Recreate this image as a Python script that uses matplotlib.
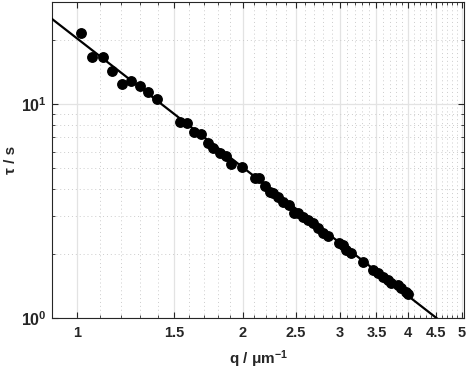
import numpy as np
import matplotlib
matplotlib.use("Agg")
import matplotlib.pyplot as plt
from matplotlib.ticker import FixedLocator, NullFormatter

plt.rcParams['font.family'] = ['Liberation Sans', 'DejaVu Sans']
plt.rcParams['mathtext.fontset'] = 'custom'
plt.rcParams['mathtext.rm'] = 'Liberation Sans:bold'
plt.rcParams['mathtext.bf'] = 'Liberation Sans:bold'
plt.rcParams['mathtext.it'] = 'Liberation Sans:bold:italic'

# data (q in um^-1, tau in s)
q = [1.017, 1.065, 1.115, 1.157, 1.207, 1.253, 1.301, 1.345, 1.397,
     1.538, 1.582, 1.630, 1.677, 1.727, 1.768, 1.818, 1.862, 1.904, 1.995,
     2.104, 2.142, 2.194, 2.240, 2.272, 2.319, 2.368, 2.428, 2.476, 2.521,
     2.575, 2.629, 2.685, 2.741, 2.799, 2.858, 2.992, 3.042, 3.086, 3.151,
     3.308, 3.450, 3.523, 3.597, 3.673, 3.725, 3.829, 3.884, 3.955, 3.993]
tau = [21.5, 16.6, 16.6, 14.3, 12.4, 12.8, 12.1, 11.4, 10.6,
       8.27, 8.18, 7.38, 7.22, 6.55, 6.21, 5.88, 5.73, 5.24, 5.09,
       4.50, 4.50, 4.14, 3.89, 3.83, 3.66, 3.50, 3.37, 3.10, 3.08,
       2.95, 2.87, 2.77, 2.63, 2.50, 2.42, 2.23, 2.19, 2.08, 2.01,
       1.83, 1.68, 1.62, 1.56, 1.50, 1.45, 1.43, 1.38, 1.33, 1.30]
fit_A = 20.25
fit_exp = -2.0
fit_range = [0.9, 5.0]

xticks = [1, 1.5, 2, 2.5, 3, 3.5, 4, 4.5, 5]
xtick_labels = ['1', '1.5', '2', '2.5', '3', '3.5', '4', '4.5', '5']
yticks = [1, 10]
ytick_labels = [r'$10^{0}$', r'$10^{1}$']

fig = plt.figure(figsize=(4.69, 3.71), dpi=100)
ax = fig.add_axes([52/469, 1-318/371, (464-52)/469, (318-2)/371])
ax.set_xscale('log')
ax.set_yscale('log')

qf = np.linspace(fit_range[0], fit_range[1], 200)
ax.plot(qf, fit_A * qf**fit_exp, color='black', lw=1.6, zorder=3)
ax.plot(q, tau, 'o', color='black', ms=6.8, zorder=4)

ax.set_xlim(0.9, 5.05)
ax.set_ylim(1, 30)

ax.xaxis.set_major_locator(FixedLocator(xticks))
ax.set_xticklabels(xtick_labels)
minx = [v/10 for v in range(9, 51) if v % 5 != 0]
ax.xaxis.set_minor_locator(FixedLocator(minx))
ax.xaxis.set_minor_formatter(NullFormatter())
ax.yaxis.set_major_locator(FixedLocator(yticks))
ax.set_yticklabels(ytick_labels)
miny = [2, 3, 4, 5, 6, 7, 8, 9, 20, 30]
ax.yaxis.set_minor_locator(FixedLocator(miny))
ax.yaxis.set_minor_formatter(NullFormatter())

ax.grid(True, which='major', color='#e3e3e3', lw=0.9, ls='-')
ax.grid(True, which='minor', color='#cccccc', lw=0.7, ls=(0, (1, 3)))
ax.set_axisbelow(True)

for s in ax.spines.values():
    s.set_color('#262626')
    s.set_linewidth(0.8)
ax.tick_params(which='both', direction='in', top=True, right=True, colors='#262626',
               labelcolor='#262626')
ax.tick_params(axis='x', labelsize=10.5, pad=6)
ax.tick_params(axis='y', labelsize=11.5, pad=4)
ax.tick_params(which='major', length=4.5, width=0.8)
ax.tick_params(which='minor', length=2.5, width=0.6)
for lab in ax.get_xticklabels() + ax.get_yticklabels():
    lab.set_fontweight('bold')

ax.set_xlabel(r'q / μm$^{-1}$', fontsize=11, fontweight='bold', color='#262626', labelpad=6)
ax.set_ylabel('τ / s', fontsize=11, fontweight='bold', color='#262626')
ax.yaxis.set_label_coords(-0.082, 0.5)

fig.savefig('out.png', dpi=100)
